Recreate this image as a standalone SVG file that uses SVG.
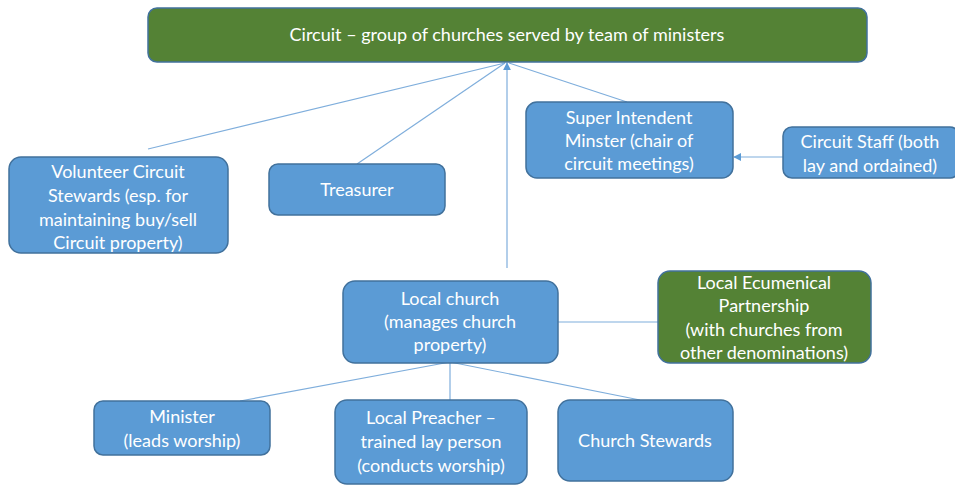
<svg xmlns="http://www.w3.org/2000/svg" width="955" height="485" viewBox="0 0 955 485">
<defs>
<style>
.b{fill:#5B9BD5;stroke:#41719C;stroke-width:1.5}
.g{fill:#548235;stroke:#41719C;stroke-width:1.5}
.t{font-family:Lato,"Open Sans","Liberation Sans",sans-serif;font-size:18px;fill:#ffffff;text-anchor:middle}
.c{stroke:#7FAEDC;stroke-width:1.2;fill:none}
</style>
<marker id="ah" viewBox="0 0 10 10" refX="9" refY="5" markerWidth="8" markerHeight="8" markerUnits="userSpaceOnUse" orient="auto">
<path d="M0,0 L10,5 L0,10 Z" fill="#5B9BD5"/>
</marker>
</defs>
<rect width="955" height="485" fill="#ffffff"/>
<g id="connectors">
<line class="c" x1="148" y1="149" x2="505" y2="63"/>
<line class="c" x1="357" y1="164" x2="505" y2="63"/>
<line class="c" x1="627" y1="102" x2="509" y2="63"/>
<line class="c" x1="507" y1="268" x2="507" y2="63" marker-end="url(#ah)"/>
<line class="c" x1="783" y1="157" x2="734" y2="157" marker-end="url(#ah)"/>
<line class="c" x1="557" y1="322" x2="658" y2="322"/>
<line class="c" x1="450" y1="362" x2="240" y2="401"/>
<line class="c" x1="450" y1="362" x2="450" y2="400"/>
<line class="c" x1="450" y1="362" x2="640" y2="400"/>
</g>
<g id="circuit">
<rect class="g" x="148" y="8" width="719" height="54" rx="9"/>
<text class="t" x="507" y="41">Circuit – group of churches served by team of ministers</text>
</g>
<g id="volunteer">
<rect class="b" x="9" y="157" width="219" height="96" rx="12"/>
<text class="t" x="118" y="178">Volunteer Circuit</text>
<text class="t" x="118" y="202">Stewards (esp. for</text>
<text class="t" x="118" y="226">maintaining buy/sell</text>
<text class="t" x="118" y="249">Circuit property)</text>
</g>
<g id="treasurer">
<rect class="b" x="269" y="164" width="176" height="51" rx="9"/>
<text class="t" x="357" y="196">Treasurer</text>
</g>
<g id="superintendent">
<rect class="b" x="526" y="102" width="207" height="76" rx="11"/>
<text class="t" x="629" y="124">Super Intendent</text>
<text class="t" x="629" y="147">Minster (chair of</text>
<text class="t" x="629" y="170">circuit meetings)</text>
</g>
<g id="staff">
<rect class="b" x="783" y="127" width="176" height="51" rx="9"/>
<text class="t" x="870" y="148">Circuit Staff (both</text>
<text class="t" x="870" y="172">lay and ordained)</text>
</g>
<g id="localchurch">
<rect class="b" x="343" y="281" width="215" height="82" rx="12"/>
<text class="t" x="450" y="305">Local church</text>
<text class="t" x="450" y="328">(manages church</text>
<text class="t" x="450" y="351">property)</text>
</g>
<g id="lep">
<rect class="g" x="658" y="271" width="213" height="92" rx="12"/>
<text class="t" x="764" y="289">Local Ecumenical</text>
<text class="t" x="764" y="312">Partnership</text>
<text class="t" x="764" y="336">(with churches from</text>
<text class="t" x="764" y="359">other denominations)</text>
</g>
<g id="minister">
<rect class="b" x="94" y="401" width="176" height="54" rx="9"/>
<text class="t" x="182" y="423">Minister</text>
<text class="t" x="182" y="447">(leads worship)</text>
</g>
<g id="preacher">
<rect class="b" x="335" y="400" width="192" height="84" rx="12"/>
<text class="t" x="431" y="424">Local Preacher –</text>
<text class="t" x="431" y="448">trained lay person</text>
<text class="t" x="431" y="472">(conducts worship)</text>
</g>
<g id="stewards">
<rect class="b" x="558" y="400" width="175" height="81" rx="12"/>
<text class="t" x="645" y="447">Church Stewards</text>
</g>
</svg>
